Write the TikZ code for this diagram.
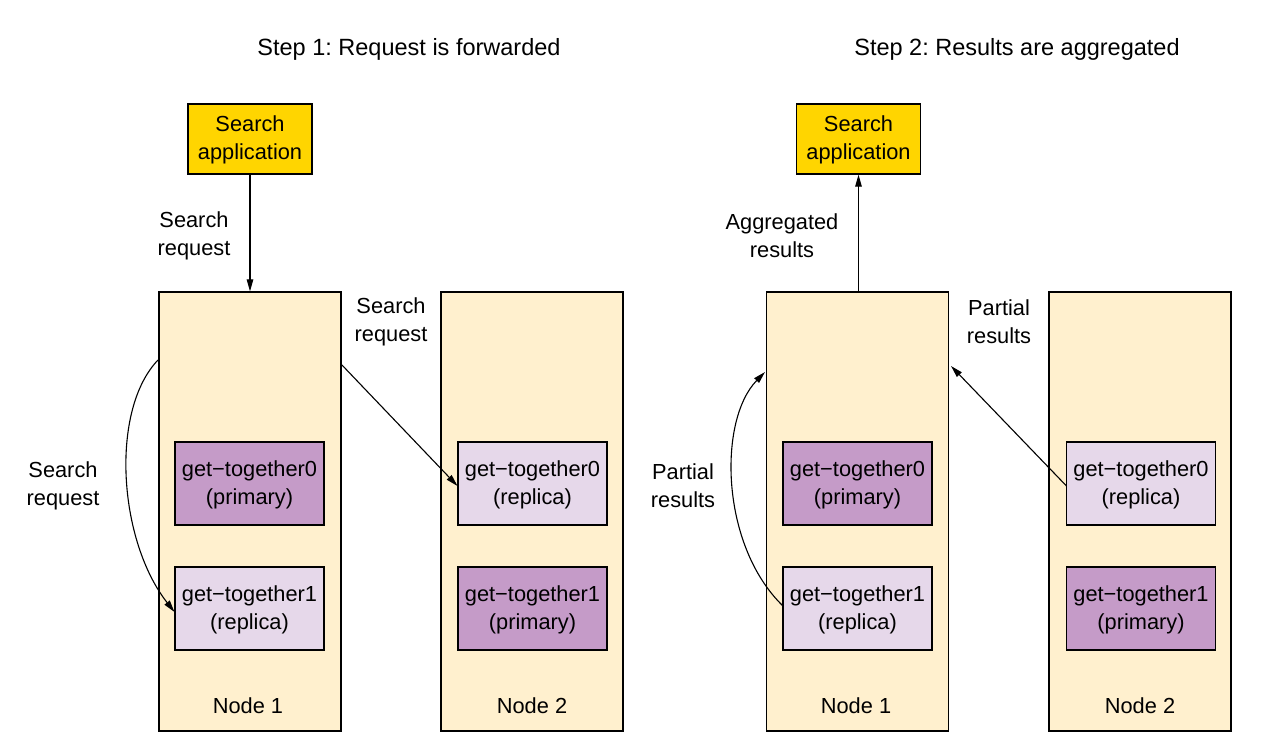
\documentclass[tikz,border=0pt]{standalone}
\usepackage{fontspec}
\setmainfont{Liberation Sans}
\usetikzlibrary{arrows.meta}
\definecolor{appyellow}{HTML}{FFD500}
\definecolor{nodebg}{HTML}{FFF0CE}
\definecolor{primcol}{HTML}{C59BC8}
\definecolor{replcol}{HTML}{E6D8EA}
\frenchspacing
\begin{document}
\begin{tikzpicture}[x=1pt,y=-1pt,
  every node/.style={font=\fontsize{21.8}{28}\selectfont, align=center, inner sep=0pt},
  titletext/.style={font=\fontsize{23.5}{28}\selectfont},
  appbox/.style={draw, line width=1.2pt, fill=appyellow, minimum width=124pt, minimum height=70pt},
  nodebox/.style={draw, line width=1.2pt, fill=nodebg, minimum width=182pt, minimum height=439pt},
  primbox/.style={draw, line width=1.2pt, fill=primcol, minimum width=149pt, minimum height=83pt},
  replbox/.style={draw, line width=1.2pt, fill=replcol, minimum width=149pt, minimum height=83pt},
  conn/.style={line width=1.1pt, -{Triangle[length=12pt,width=6.5pt]}}
]
\useasboundingbox (0,0) rectangle (1265,747);
% ---------- Step 1 ----------
\node[titletext] (t1) at (409,49.5) {Step 1: Request is forwarded};
\node[appbox] (app1) at (250,139) {};
\node (app1t) at (250,140) {Search\\application};
\node[nodebox] (l1) at (250,511.5) {};
\node[nodebox] (l2) at (532,511.5) {};
\node (l1lab) at (248,706) {Node 1};
\node (l2lab) at (532,706) {Node 2};
\node[primbox] (l1p) at (249.5,483.5) {};
\node (l1pt) at (249.5,485) {get\textminus together0\\(primary)};
\node[replbox] (l1r) at (249.5,608.5) {};
\node (l1rt) at (249.5,610) {get\textminus together1\\(replica)};
\node[replbox] (l2r) at (532.5,483.5) {};
\node (l2rt) at (532.5,485) {get\textminus together0\\(replica)};
\node[primbox] (l2p) at (532.5,608.5) {};
\node (l2pt) at (532.5,610) {get\textminus together1\\(primary)};
\node (s1) at (194,235.5) {Search\\request};
\node (s2) at (391,321.5) {Search\\request};
\node (s3) at (63,485.5) {Search\\request};
\coordinate (c1) at (158,360);
\coordinate (c1e) at (174.5,612);
\coordinate (c2) at (341,364);
\coordinate (c2e) at (457.5,486);
\draw[conn] (app1.south) -- (l1.north);
\draw[conn] (c2) -- (c2e);
\draw[conn] (c1) .. controls (110,410) and (118,540) .. (c1e);
% ---------- Step 2 ----------
\node[titletext] (t2) at (1017,49.5) {Step 2: Results are aggregated};
\node[appbox] (app2) at (858.5,139) {};
\node (app2t) at (858.5,140) {Search\\application};
\node[nodebox] (r1) at (857.5,511.5) {};
\node[nodebox] (r2) at (1140,511.5) {};
\node (r1lab) at (856,706) {Node 1};
\node (r2lab) at (1140,706) {Node 2};
\node[primbox] (r1p) at (857.5,483.5) {};
\node (r1pt) at (857.5,485) {get\textminus together0\\(primary)};
\node[replbox] (r1r) at (857.5,608.5) {};
\node (r1rt) at (857.5,610) {get\textminus together1\\(replica)};
\node[replbox] (r2r) at (1141,483.5) {};
\node (r2rt) at (1141,485) {get\textminus together0\\(replica)};
\node[primbox] (r2p) at (1141,608.5) {};
\node (r2pt) at (1141,610) {get\textminus together1\\(primary)};
\node (a1) at (782,235.5) {Aggregated\\results};
\node (a2) at (999,321.5) {Partial\\results};
\node (a3) at (683,485.5) {Partial\\results};
\coordinate (d1) at (783,606);
\coordinate (d1e) at (765,372);
\coordinate (d2) at (1066.5,486);
\coordinate (d2e) at (951,366);
\draw[conn] (r1.north -| app2.south) -- (app2.south);
\draw[conn] (d2) -- (d2e);
\draw[conn] (d1) .. controls (720,545) and (718,420) .. (d1e);
\end{tikzpicture}
\end{document}
